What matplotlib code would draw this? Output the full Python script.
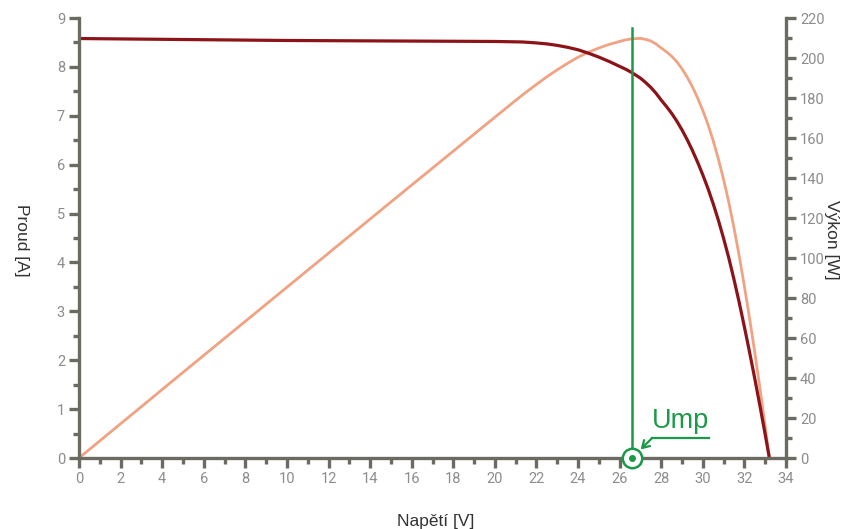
import matplotlib.pyplot as plt
from matplotlib.ticker import MultipleLocator
from matplotlib.transforms import ScaledTranslation

# napeti [V], proud [A], vykon [W]
voltage = [0, 5, 10, 15, 20, 21.3, 21.5, 22, 22.5, 23, 23.5, 24, 24.5, 25, 25.5,
           26, 26.3, 26.6, 27, 27.25, 27.5, 27.75, 28, 28.25, 28.5, 28.75, 29,
           29.25, 29.5, 29.75, 30, 30.25, 30.5, 30.75, 31, 31.25, 31.5, 31.75,
           32, 32.25, 32.5, 32.75, 33, 33.2]
current = [8.58, 8.56, 8.54, 8.53, 8.52, 8.51, 8.505, 8.49, 8.47, 8.44, 8.40, 8.35,
           8.28, 8.20, 8.11, 8.01, 7.95, 7.88, 7.77, 7.68, 7.58, 7.46, 7.32, 7.19,
           7.05, 6.89, 6.71, 6.51, 6.29, 6.05, 5.79, 5.51, 5.20, 4.86, 4.49, 4.09,
           3.65, 3.18, 2.68, 2.16, 1.62, 1.06, 0.48, 0.0]
power = [0, 42.8, 85.4, 128.0, 170.4, 181.3, 182.9, 186.8, 190.6, 194.1, 197.4,
         200.4, 202.9, 205.0, 206.8, 208.3, 209.1, 209.6, 209.8, 209.3, 208.5,
         207.0, 205.0, 203.1, 200.9, 198.1, 194.6, 190.4, 185.6, 180.0, 173.7,
         166.7, 158.6, 149.4, 139.2, 127.8, 115.0, 101.0, 85.8, 69.7, 52.7, 34.7,
         15.8, 0.0]
ump = 26.6
ump_top = 8.8

axis_col = '#6b6b62'
tick_col = '#8c8c8c'
label_col = '#333333'
green = '#1a9a48'

fig, ax = plt.subplots(figsize=(8.5, 5.29), dpi=100)
fig.subplots_adjust(left=79 / 850, right=786 / 850, bottom=71 / 529, top=511 / 529)
ax2 = ax.twinx()
ax.set_zorder(ax2.get_zorder() + 1)
ax.patch.set_visible(False)

ax2.plot(voltage, power, color='#f0a383', lw=2.0, solid_capstyle='round')
ax.plot(voltage, current, color='#8c1419', lw=2.3, solid_capstyle='round')

ax.set_xlim(0, 34)
ax.set_ylim(0, 9)
ax2.set_ylim(0, 220)

for a in (ax, ax2):
    a.spines['top'].set_visible(False)
    for s in ('left', 'right', 'bottom'):
        a.spines[s].set_color(axis_col)
        a.spines[s].set_linewidth(2.4)
    a.tick_params(which='major', direction='out', length=7, width=2.4, color=axis_col,
                  labelcolor=tick_col, labelsize=10.5, pad=3)
    a.tick_params(which='minor', direction='out', length=4.5, width=2.4, color=axis_col)

ax.xaxis.set_major_locator(MultipleLocator(2))
ax.xaxis.set_minor_locator(MultipleLocator(1))
ax.yaxis.set_major_locator(MultipleLocator(1))
ax.yaxis.set_minor_locator(MultipleLocator(0.5))
ax2.yaxis.set_major_locator(MultipleLocator(20))
ax2.yaxis.set_minor_locator(MultipleLocator(10))
ax2.spines['left'].set_visible(False)
ax2.spines['bottom'].set_visible(False)
ax.spines['right'].set_visible(False)

for a in (ax, ax2):
    for lab in a.get_xticklabels() + a.get_yticklabels():
        lab.set_family('Roboto')

lab_font = dict(family='Liberation Sans', size=12.5, color=label_col)
ax.set_xlabel('Napětí [V]', va='center', **lab_font)
ax.set_ylabel('Proud [A]', rotation=270, va='center', **lab_font)
ax2.set_ylabel('Výkon [W]', rotation=270, va='center', **lab_font)
ax.xaxis.set_label_coords(0.504, -0.145)
ax.yaxis.set_label_coords(-0.081, 0.495)
ax2.yaxis.set_label_coords(1.065, 0.495)

# Ump marker
ax.plot([ump, ump], [0, ump_top], color=green, lw=1.8, zorder=5)
ax.plot(ump, 0, 'o', ms=14, mfc='white', mec=green, mew=1.8, clip_on=False, zorder=6)
ax.plot(ump, 0, 'o', ms=4, color=green, clip_on=False, zorder=7)

tr = fig.dpi_scale_trans + ScaledTranslation(ump, 0, ax.transData)
ax.text(0.20, 0.30, 'Ump', transform=tr, color=green, fontsize=19.5,
        family='Liberation Sans', va='baseline', ha='left', zorder=7)
ax.plot([0.20, 0.77], [0.20, 0.20], transform=tr, color=green, lw=1.6, clip_on=False, zorder=7)
ax.annotate('', xy=(0.085, 0.085), xycoords=tr, xytext=(0.20, 0.20), textcoords=tr,
            arrowprops=dict(arrowstyle='->,head_length=0.5,head_width=0.3', color=green,
                            lw=1.6, shrinkA=0, shrinkB=0), zorder=7)

fig.savefig('out.png', dpi=100, facecolor='white')
